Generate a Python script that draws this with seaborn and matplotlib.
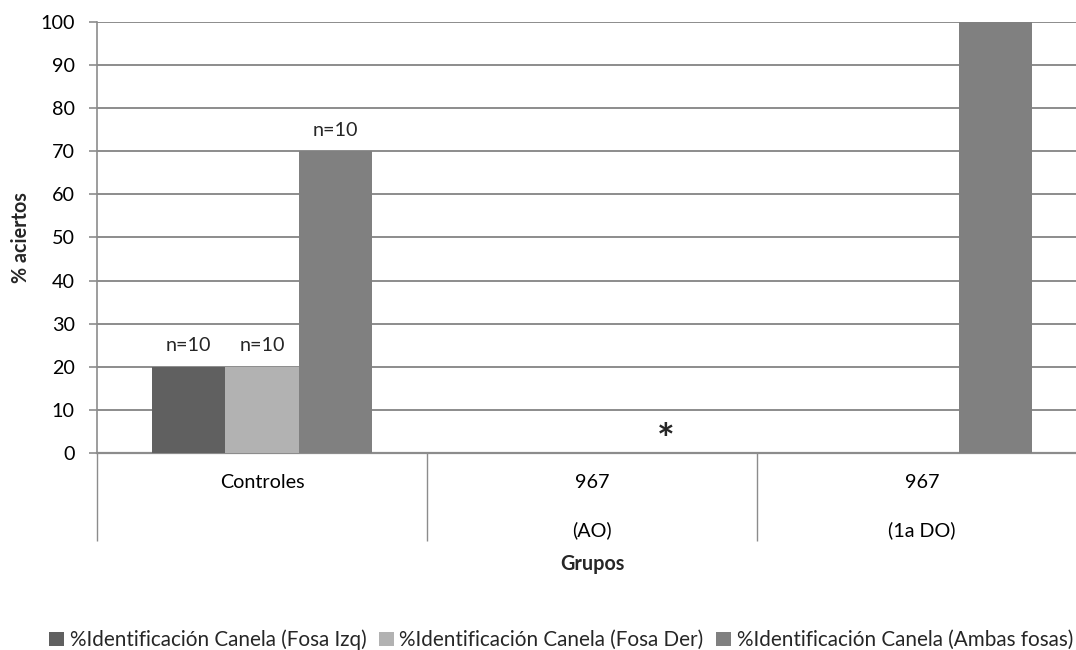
import matplotlib
matplotlib.use("Agg")
import matplotlib.pyplot as plt
from matplotlib.patches import Patch
import seaborn as sns
import pandas as pd

# Groups on the category axis (first line / second line)
group_names = ["Controles", "967", "967"]
group_subs = ["", "(AO)", "(1a DO)"]

# Series
series = [
    "%Identificación Canela (Fosa Izq)",
    "%Identificación Canela (Fosa Der)",
    "%Identificación Canela (Ambas fosas)",
]
fosa_izq = [20, 0, 0]
fosa_der = [20, 0, 0]
ambas_fosas = [70, 0, 100]

# Annotations above each bar
labels_izq = ["n=10", "", ""]
labels_der = ["n=10", "", ""]
labels_ambas = ["n=10", "*", ""]

colors = ["#606060", "#b2b2b2", "#808080"]
grid_gray = "#8c8c8c"

sns.set_theme(style="white")
plt.rcParams["font.family"] = ["Lato", "DejaVu Sans"]
FS = 14.2

group_keys = [n if not s else f"{n}\n\n{s}" for n, s in zip(group_names, group_subs)]
rows = []
for name, vals in zip(series, [fosa_izq, fosa_der, ambas_fosas]):
    for g, v in zip(group_keys, vals):
        rows.append({"Grupo": g, "Serie": name, "Valor": v})
df = pd.DataFrame(rows)

fig = plt.figure(figsize=(10.76, 6.5), dpi=100)
ax = fig.add_axes([97 / 1076, 197 / 650, 990 / 1076, 431 / 650])

sns.barplot(
    data=df, x="Grupo", y="Valor", hue="Serie", order=group_keys,
    hue_order=series, palette=colors, width=0.667, saturation=1,
    legend=False, ax=ax, zorder=3, linewidth=0, edgecolor="none",
)

ax.set_xlim(-0.5, 2.5)
ax.set_ylim(0, 100)
ax.set_yticks(range(0, 101, 10))
ax.yaxis.grid(True, color=grid_gray, linewidth=1.4, zorder=0)
ax.set_axisbelow(True)

for side in ["top", "right"]:
    ax.spines[side].set_visible(False)
for side in ["left", "bottom"]:
    ax.spines[side].set_color(grid_gray)
    ax.spines[side].set_linewidth(1.2)
ax.spines["bottom"].set_linewidth(1.6)

ax.tick_params(axis="y", which="major", direction="out", length=6,
               width=1.2, color=grid_gray, labelsize=FS, pad=10,
               labelcolor="black", left=True)
ax.tick_params(axis="x", which="major", length=0, labelsize=FS, pad=15,
               labelcolor="black")
ax.set_xticks(range(len(group_keys)))
ax.set_xticklabels(group_keys, linespacing=1.45)
ax.set_xticks([-0.5, 0.5, 1.5, 2.5], minor=True)
ax.tick_params(axis="x", which="minor", direction="out", length=63,
               width=1.0, color=grid_gray, bottom=True)

ax.set_xlabel("Grupos", fontsize=FS, fontweight="bold", labelpad=6)
ax.set_ylabel("% aciertos", fontsize=FS, fontweight="bold", labelpad=7)

for cont, labs in zip(ax.containers, [labels_izq, labels_der, labels_ambas]):
    texts = ax.bar_label(cont, labels=labs, padding=9, fontsize=FS)
    for t in texts:
        if t.get_text() == "*":
            t.set_fontsize(30)
            t.set_fontweight("bold")
            t.xyann = (0, -6)

handles = [Patch(facecolor=c, edgecolor="none") for c in colors]
fig.legend(
    handles, series, loc="center left", bbox_to_anchor=(49 / 1076, 10 / 650),
    ncol=3, frameon=False, fontsize=14.9, handlelength=0.72, handleheight=0.72,
    handletextpad=0.28, columnspacing=0.6, borderpad=0, borderaxespad=0,
)

fig.savefig("out.png", dpi=100)
